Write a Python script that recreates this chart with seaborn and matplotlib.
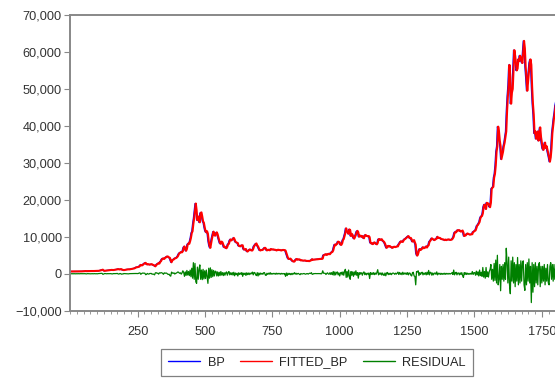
import numpy as np
import pandas as pd
import matplotlib
matplotlib.use("Agg")
import matplotlib.pyplot as plt
from matplotlib.ticker import MultipleLocator, StrMethodFormatter
import seaborn as sns

# Observation index: one sample every 3 observations
obs = np.arange(1, 1802, 3)

# Bitcoin price (BP)
bp = [
    620, 605, 610, 615, 605, 600, 610, 620, 610, 618, 615, 630, 640, 650, 655, 680, 700, 715, 730, 700,
    710, 735, 740, 745, 750, 740, 730, 735, 740, 755, 770, 775, 780, 770, 790, 830, 890, 960, 1020, 1100,
    910, 790, 820, 870, 890, 910, 920, 940, 980, 1010, 1040, 1020, 1000, 1030, 1050, 1120, 1150, 1190, 1270, 1220,
    1150, 1230, 1250, 1100, 1050, 980, 1030, 1080, 1100, 1150, 1180, 1200, 1180, 1220, 1230, 1270, 1310, 1380, 1450, 1550,
    1700, 1760, 1800, 1850, 1900, 2150, 2400, 2250, 2300, 2500, 2700, 2850, 2950, 2650, 2500, 2600, 2550, 2450, 2500, 2600,
    2550, 2400, 2350, 2200, 2000, 2300, 2550, 2700, 2850, 2750, 3200, 3400, 3850, 4100, 4150, 4000, 4300, 4400, 4600, 4700,
    4600, 4400, 4300, 3700, 3100, 3600, 3800, 3900, 4150, 4200, 4300, 4500, 4800, 5300, 5600, 5700, 5900, 5800, 6100, 7000,
    7400, 6800, 6200, 6700, 7900, 8200, 8100, 8800, 9700, 11000, 11500, 13500, 15000, 17000, 19000, 17200, 14500, 15500, 14500, 13900,
    16400, 16600, 15500, 14200, 13800, 12600, 11600, 11200, 11500, 10800, 8800, 7600, 7000, 8300, 9500, 10400, 11400, 10500, 10300, 10800,
    11200, 10700, 9800, 9100, 8300, 8100, 8700, 8500, 7900, 7200, 7300, 7000, 6900, 7300, 8000, 8100, 8900, 9300, 9000, 9200,
    9400, 9700, 9300, 8700, 8500, 8400, 8300, 7600, 7500, 7400, 7600, 7700, 7700, 6800, 6500, 6600, 6700, 6200, 6000, 6200,
    6400, 6600, 6400, 6300, 6300, 6700, 7400, 7700, 8000, 8200, 7700, 7400, 6900, 6400, 6300, 6450, 6400, 6500, 6700, 7000,
    7000, 6700, 6300, 6450, 6500, 6350, 6400, 6700, 6600, 6550, 6600, 6500, 6500, 6400, 6300, 6450, 6500, 6400, 6450, 6350,
    6300, 6400, 6450, 6400, 6400, 6300, 5600, 4800, 4300, 4000, 4000, 4100, 3900, 3600, 3400, 3300, 3300, 3600, 3900, 4000,
    3800, 3850, 3900, 3800, 3600, 3650, 3600, 3550, 3550, 3600, 3550, 3450, 3450, 3500, 3400, 3450, 3600, 3650, 3950, 3800,
    3800, 3850, 3850, 3900, 3900, 3950, 3950, 4000, 4000, 4050, 4000, 4100, 5000, 5100, 5200, 5300, 5100, 5200, 5400, 5300,
    5300, 5600, 5800, 5900, 6300, 7200, 7900, 7700, 8000, 8100, 8700, 8600, 8500, 7900, 7800, 8200, 9100, 9400, 10200, 11000,
    12300, 11500, 11300, 10800, 12000, 11800, 10200, 10800, 10500, 9800, 9500, 10000, 10500, 11300, 11600, 11200, 10000, 10300, 10300, 10000,
    10200, 9800, 9600, 10300, 10500, 10300, 10200, 10100, 10200, 9900, 8500, 8200, 8300, 8000, 8200, 8500, 8300, 8100, 7950, 8300,
    9300, 9400, 9150, 9200, 9350, 9000, 8800, 8600, 8200, 7600, 7000, 7200, 7550, 7400, 7500, 7300, 7200, 7000, 7100, 7300,
    7300, 7200, 7300, 7400, 7400, 7900, 8200, 8600, 8800, 8700, 8600, 9000, 9300, 9400, 9600, 9800, 10000, 10200, 9900, 9600,
    9700, 9300, 8700, 8800, 9100, 8500, 7900, 5500, 4900, 5400, 6200, 6700, 6400, 6600, 6800, 7200, 6900, 7000, 7100, 7400,
    7100, 7500, 7700, 8600, 8900, 9200, 9600, 9400, 9300, 9100, 9200, 9400, 9500, 10000, 9700, 9700, 9700, 9500, 9400, 9300,
    9300, 9200, 9100, 9250, 9100, 9200, 9250, 9300, 9200, 9150, 9200, 9300, 9600, 10000, 11000, 11300, 11200, 11600, 11800, 11700,
    11800, 11600, 11400, 11500, 11700, 11200, 10200, 10300, 10400, 10700, 10900, 10800, 10700, 10600, 10600, 10700, 10700, 11300, 11400, 11600,
    11700, 12300, 13000, 13200, 13600, 14000, 15000, 15500, 15600, 16300, 18000, 18700, 18500, 17500, 19200, 19000, 19000, 18400, 18000, 19200,
    23000, 23300, 23500, 26000, 27000, 29300, 33000, 34500, 39800, 38500, 36000, 34500, 31000, 32000, 33000, 34500, 35500, 37000, 38500, 44000,
    48000, 51000, 56500, 53000, 46000, 49000, 50000, 55000, 60500, 59000, 57000, 55000, 55500, 58000, 57500, 59000, 58600, 57500, 57000, 60000,
    63000, 61000, 56000, 53000, 49500, 52000, 54500, 57000, 58000, 56500, 50500, 46000, 43000, 38000, 38500, 36500, 37500, 38500, 36000, 38000,
    39600, 37000, 35500, 34000, 33500, 34500, 35500, 34000, 34500, 33500, 32500, 31500, 30300, 31500, 34000, 38000, 40000, 42000, 43500, 45500,
    46500,
]

# Model residual
residual = [
    0, 10, -15, 20, -10, 15, -20, 10, -5, 20, 15, -10, 25, 20, -15, 35, 30, 10, 40, -30,
    -30, 30, 15, 10, -20, -15, 10, 20, -10, 25, 30, -10, 20, -25, 30, 50, 70, 60, 80, 120,
    -150, -90, 50, 45, 30, -20, 40, 15, 35, 25, 30, -30, -40, 35, 30, 50, 40, 70, 80, -60,
    -80, 60, 40, -120, -60, -60, 50, 40, 30, 40, 30, 20, -30, 30, 20, 40, 50, 60, 80, 100,
    120, 70, 60, 50, 80, 200, 220, -150, 60, 180, 160, 120, 140, -250, -180, 90, -60, -100, 70, 90,
    80, -140, -60, -150, -300, 250, 280, 140, 150, -100, 250, 180, 300, 250, 100, -150, 250, 120, 200, 150,
    -60, -200, -120, -500, -650, 450, 220, 100, 250, -80, 100, 180, 350, 500, 300, 120, 250, -100, 250, 800,
    400, -700, 500, -450, 900, -350, 600, -500, 1000, -800, 1500, -1200, 3000, -1500, 2800, -2200, -2600, 1800, -1500, 1200,
    2400, -1500, 1000, -1600, 1200, -1400, 800, -1300, 1000, -900, -2600, 1500, -1200, 1600, -1000, 1100, -800, 900, -600, 700,
    600, -600, 500, -600, 400, -500, 600, -350, 300, -500, 300, -400, 250, 500, -400, 300, 600, -300, 250, -250,
    300, -350, 400, -550, 200, -250, 150, -600, 250, -200, 200, -150, 300, -700, 150, -200, 200, -450, 250, -250,
    200, -250, 200, -100, 150, 450, -300, 350, 300, -250, -500, 300, -600, 200, -300, 180, -100, 120, -150, 300,
    300, -350, -450, 150, -180, 150, -100, 300, -150, 100, -80, 100, -60, 120, -150, 150, -70, 100, -60, 100,
    -120, 100, -60, 80, -60, 60, -700, 200, -500, 150, -200, 100, -250, 100, -250, 100, -80, 300, -100, 150,
    -150, 60, 90, -120, -250, 60, -60, -50, 30, 60, -60, -120, 20, 50, -100, 60, 150, 60, 300, -160,
    -100, 60, 20, 60, 30, 50, 30, 50, 30, 60, -50, 100, 800, 150, 150, 120, -200, 100, 250, -100,
    -100, 300, -200, 300, -250, 600, -400, 500, -300, 300, 500, -300, 250, -600, 200, 400, -300, 500, -400, 700,
    1200, -1000, 600, -900, 1000, -600, -1500, 600, -400, 500, -700, 500, -300, 800, -400, 300, -1200, 300, -200, 300,
    200, -400, 300, 500, -250, 200, -300, 150, -100, 200, -1300, 300, -200, 250, -200, 300, -250, 200, -150, 350,
    1100, -300, 200, -150, 250, -350, 200, -300, -450, 200, -550, 200, 350, -250, 150, -200, 150, -250, 100, 200,
    100, -150, 150, -100, 150, 450, -200, 350, -150, 200, -250, 400, -150, 200, -100, 250, -200, 300, -300, 200,
    150, -400, -600, 300, 400, -600, -700, -3000, 600, 500, 800, -500, 300, -200, 300, 400, -300, 200, -150, 300,
    -300, 400, -200, 900, -300, 400, 300, -400, 200, -300, 150, 200, -150, 500, -300, 150, -100, 150, -200, 100,
    -150, 100, -150, 150, -150, 100, -80, 100, -100, 80, -60, 100, 300, -200, 1000, -300, 200, 400, -300, 200,
    200, -300, 250, -200, 300, -500, -1000, 300, -200, 300, -200, 150, -150, 100, -150, 100, -100, 600, -200, 300,
    300, -400, 700, -300, 500, -600, 1000, -500, 400, -700, 1700, -900, 600, -1200, 1700, -800, 500, -900, 600, 1200,
    2500, -1500, 1200, -2000, 2800, -1800, 3700, -2500, 5000, -3000, -1500, 2500, -4600, 2000, -1500, 2500, -2000, 3000, -1500, 6900,
    3000, -2500, 4500, -3000, -5400, 3500, -2000, 4500, -2500, 3000, -3500, 2500, -2000, 4400, -3000, 2500, -2500, 3500, -2000, 3000,
    3500, -3000, -4500, 2500, -3000, 3000, -2000, 4000, -2500, 2000, -7800, 3000, -5000, 2500, -3500, 3000, -2500, 2000, -3000, 2500,
    3000, -3500, 2000, -2500, 2000, -2000, 2500, -3000, 1500, -2000, 2500, -2500, -3000, 2000, 3000, -1500, 2500, -2000, 2500, -1500,
    1500,
]

series_names = ["BP", "FITTED_BP", "RESIDUAL"]
series_colors = ["#0000ff", "#ff0000", "#008000"]
series_widths = [0.9, 1.5, 0.9]

# The fitted value trails the actual price by one step
bp_arr = np.asarray(bp, dtype=float)
fitted = np.concatenate([[bp_arr[0]], bp_arr[:-1]])

df = pd.concat([
    pd.DataFrame({"obs": obs, "value": bp_arr, "series": "BP"}),
    pd.DataFrame({"obs": obs, "value": fitted, "series": "FITTED_BP"}),
    pd.DataFrame({"obs": obs, "value": residual, "series": "RESIDUAL"}),
], ignore_index=True)

sns.set_style("white")
plt.rcParams["font.family"] = ["Liberation Sans", "DejaVu Sans"]

fig = plt.figure(figsize=(5.55, 3.78), dpi=100)
ax = fig.add_axes([0.1265, 0.178, 0.9032, 0.7823])

sns.lineplot(
    data=df, x="obs", y="value", hue="series",
    hue_order=series_names, palette=dict(zip(series_names, series_colors)),
    estimator=None, sort=False, linewidth=1.0, ax=ax,
)
for line, width in zip(ax.lines[:3], series_widths):
    line.set_linewidth(width)

ax.set_xlim(0, 1860)
ax.set_ylim(-10000, 70000)
ax.yaxis.set_major_locator(MultipleLocator(10000))
ax.yaxis.set_major_formatter(StrMethodFormatter("{x:,.0f}"))
ax.xaxis.set_minor_locator(MultipleLocator(25))
ax.set_xticks([250, 500, 750, 1000, 1250, 1500, 1750])
ax.set_xlabel("")
ax.set_ylabel("")

spine_color = "#888888"
for side in ("left", "bottom", "top"):
    ax.spines[side].set_visible(True)
    ax.spines[side].set_color(spine_color)
    ax.spines[side].set_linewidth(1.4)
ax.spines["right"].set_visible(False)

label_size = 9.2
ax.tick_params(axis="y", which="major", direction="out", length=4, width=0.8,
               color=spine_color, labelsize=label_size, labelcolor="#333333",
               pad=2, left=True)
ax.tick_params(axis="x", which="major", direction="out", length=4, width=0.8,
               color=spine_color, labelsize=label_size, labelcolor="#333333",
               pad=7, bottom=True)
ax.tick_params(axis="x", which="minor", direction="out", length=2.5, width=0.6,
               color=spine_color, bottom=True)

handles, labels = ax.get_legend_handles_labels()
ax.get_legend().remove()
leg = fig.legend(
    handles, labels, loc="center", bbox_to_anchor=(0.571, 0.041), ncol=3,
    frameon=True, fancybox=False, edgecolor="#808080", framealpha=1,
    fontsize=label_size, handlelength=2.5, handletextpad=0.6,
    columnspacing=1.2, borderpad=0.55,
)
leg.get_frame().set_linewidth(0.9)
for h in leg.legend_handles:
    h.set_linewidth(1.0)

fig.savefig("out.png", dpi=100)
